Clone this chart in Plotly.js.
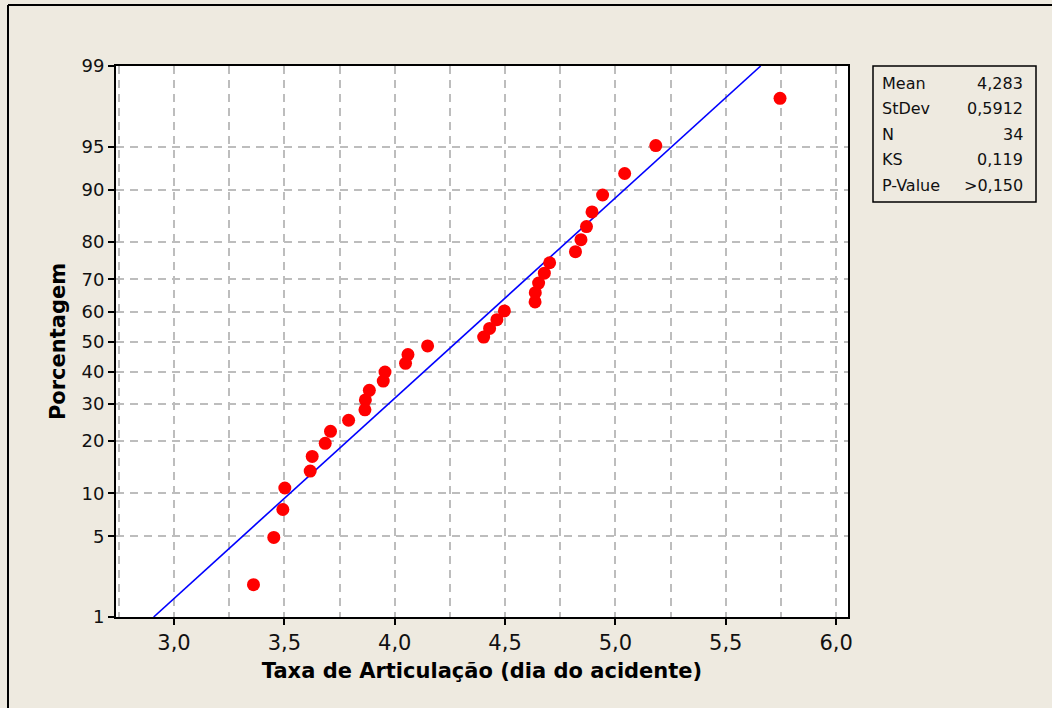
<!DOCTYPE html>
<html>
<head>
<meta charset="utf-8">
<script src="https://cdn.plot.ly/plotly-3.0.1.min.js"></script>
<style>
  html, body { margin: 0; padding: 0; background: #EEEAE0; }
  #chart { width: 1052px; height: 708px; }
</style>
</head>
<body>
<div id="chart"></div>
<script>
// ---- Data ----
const taxa = [3.360, 3.452, 3.493, 3.502, 3.617, 3.626, 3.685, 3.709, 3.791, 3.865,
              3.867, 3.885, 3.948, 3.956, 4.049, 4.060, 4.149, 4.403, 4.430, 4.463,
              4.497, 4.636, 4.637, 4.652, 4.678, 4.702, 4.819, 4.844, 4.869, 4.894,
              4.942, 5.042, 5.183, 5.746];
const porcentagem = [2.0, 4.9, 7.8, 10.8, 13.7, 16.6, 19.5, 22.4, 25.3, 28.2,
                     31.1, 34.0, 36.9, 39.8, 42.7, 45.6, 48.5, 51.5, 54.4, 57.3,
                     60.2, 63.1, 66.0, 68.9, 71.8, 74.7, 77.6, 80.5, 83.4, 86.3,
                     89.2, 92.2, 95.1, 98.0];
const yTickPct = [1, 5, 10, 20, 30, 40, 50, 60, 70, 80, 90, 95, 99];
const yTickLabels = ['1', '5', '10', '20', '30', '40', '50', '60', '70', '80', '90', '95', '99'];
const xTickVals = [3.0, 3.5, 4.0, 4.5, 5.0, 5.5, 6.0];
const xTickLabels = ['3,0', '3,5', '4,0', '4,5', '5,0', '5,5', '6,0'];
const statLabels = ['Mean', 'StDev', 'N', 'KS', 'P-Value'];
const statValues = ['4,283', '0,5912', '34', '0,119', '>0,150'];
const mean = 4.283;
const stdev = 0.5912;
const fitPct = [1, 99];

// ---- Inverse normal CDF (probability-scale axis) ----
function qnorm(p) {
  const a = [-3.969683028665376e+01, 2.209460984245205e+02, -2.759285104469687e+02,
             1.383577518672690e+02, -3.066479806614716e+01, 2.506628277459239e+00];
  const b = [-5.447609879822406e+01, 1.615858368580409e+02, -1.556989798598866e+02,
             6.680131188771972e+01, -1.328068155288572e+01];
  const c = [-7.784894002430293e-03, -3.223964580411365e-01, -2.400758277161838e+00,
             -2.549732539343734e+00, 4.374664141464968e+00, 2.938163982698783e+00];
  const d = [7.784695709041462e-03, 3.224671290700398e-01, 2.445134137142996e+00,
             3.754408661907416e+00];
  const pl = 0.02425, ph = 1 - pl;
  let q, r;
  if (p < pl) {
    q = Math.sqrt(-2 * Math.log(p));
    return (((((c[0]*q+c[1])*q+c[2])*q+c[3])*q+c[4])*q+c[5]) /
           ((((d[0]*q+d[1])*q+d[2])*q+d[3])*q+1);
  }
  if (p <= ph) {
    q = p - 0.5; r = q * q;
    return (((((a[0]*r+a[1])*r+a[2])*r+a[3])*r+a[4])*r+a[5])*q /
           (((((b[0]*r+b[1])*r+b[2])*r+b[3])*r+b[4])*r+1);
  }
  q = Math.sqrt(-2 * Math.log(1 - p));
  return -(((((c[0]*q+c[1])*q+c[2])*q+c[3])*q+c[4])*q+c[5]) /
          ((((d[0]*q+d[1])*q+d[2])*q+d[3])*q+1);
}

const yZ = porcentagem.map(p => qnorm(p / 100));
const fitZ = fitPct.map(p => qnorm(p / 100));
const fitX = fitZ.map(z => mean + z * stdev);

// ---- Layout geometry ----
const W = 1052, H = 708;
const M = { l: 116, r: 204, t: 66, b: 91 };
const PW = W - M.l - M.r, PH = H - M.t - M.b;
const px = x => (x - M.l) / PW;
const py = y => (H - M.b - y) / PH;

const FONT = 'DejaVu Sans, Verdana, sans-serif';
const TXT = '#111111';

const traces = [
  {
    x: fitX, y: fitZ, type: 'scatter', mode: 'lines',
    line: { color: '#0000FF', width: 1.6 },
    hoverinfo: 'skip', showlegend: false
  },
  {
    x: taxa, y: yZ, type: 'scatter', mode: 'markers',
    marker: { color: '#FF0000', size: 13, line: { width: 0 } },
    showlegend: false
  }
];

const annotations = [];
const rowY = [84, 109, 134, 159, 185];
statLabels.forEach((lab, i) => {
  annotations.push({
    xref: 'paper', yref: 'paper', x: px(880), y: py(rowY[i]),
    xanchor: 'left', yanchor: 'middle', showarrow: false,
    text: lab, font: { family: FONT, size: 16, color: TXT }
  });
  annotations.push({
    xref: 'paper', yref: 'paper', x: px(1025), y: py(rowY[i]),
    xanchor: 'right', yanchor: 'middle', showarrow: false,
    text: statValues[i], font: { family: FONT, size: 16, color: TXT }
  });
});

const shapes = [
  // stats box
  { type: 'rect', xref: 'paper', yref: 'paper',
    x0: px(873), x1: px(1036), y0: py(66), y1: py(202),
    line: { color: '#000', width: 1.5 }, fillcolor: 'rgba(0,0,0,0)' },
  // outer frame (top and left edges)
  { type: 'line', xref: 'paper', yref: 'paper',
    x0: px(8), x1: px(1060), y0: py(5), y1: py(5),
    line: { color: '#000', width: 2 } },
  { type: 'line', xref: 'paper', yref: 'paper',
    x0: px(8), x1: px(8), y0: py(5), y1: py(720),
    line: { color: '#000', width: 2 } }
];

const gridStyle = { gridcolor: '#BDBDBD', gridwidth: 2, griddash: '8px,6px' };

const layout = {
  width: W, height: H,
  margin: M,
  paper_bgcolor: '#EEEAE0',
  plot_bgcolor: '#FFFFFF',
  showlegend: false,
  xaxis: Object.assign({
    range: [2.737, 6.054],
    tickmode: 'array', tickvals: xTickVals, ticktext: xTickLabels,
    showgrid: true, zeroline: false,
    showline: true, linecolor: '#000', linewidth: 2, mirror: true,
    ticks: 'outside', ticklen: 6, tickwidth: 2, tickcolor: '#000',
    tickfont: { family: FONT, size: 21, color: TXT },
    minor: Object.assign({ tickmode: 'linear', tick0: 0, dtick: 0.25, showgrid: true, ticks: '' }, gridStyle),
    title: { text: '<b>Taxa de Articulação (dia do acidente)</b>',
             font: { family: FONT, size: 21, color: '#000' }, standoff: 9 }
  }, gridStyle),
  yaxis: Object.assign({
    range: [qnorm(0.01), qnorm(0.99)],
    tickmode: 'array', tickvals: yTickPct.map(p => qnorm(p / 100)), ticktext: yTickLabels,
    showgrid: true, zeroline: false,
    showline: true, linecolor: '#000', linewidth: 2, mirror: true,
    ticks: 'outside', ticklen: 6, tickwidth: 2, tickcolor: '#000',
    tickfont: { family: FONT, size: 18, color: TXT },
    title: { text: '<b>Porcentagem</b>',
             font: { family: FONT, size: 21, color: '#000' }, standoff: 10 }
  }, gridStyle),
  annotations: annotations,
  shapes: shapes
};

Plotly.newPlot('chart', traces, layout, { displayModeBar: false, staticPlot: true });
</script>
</body>
</html>
